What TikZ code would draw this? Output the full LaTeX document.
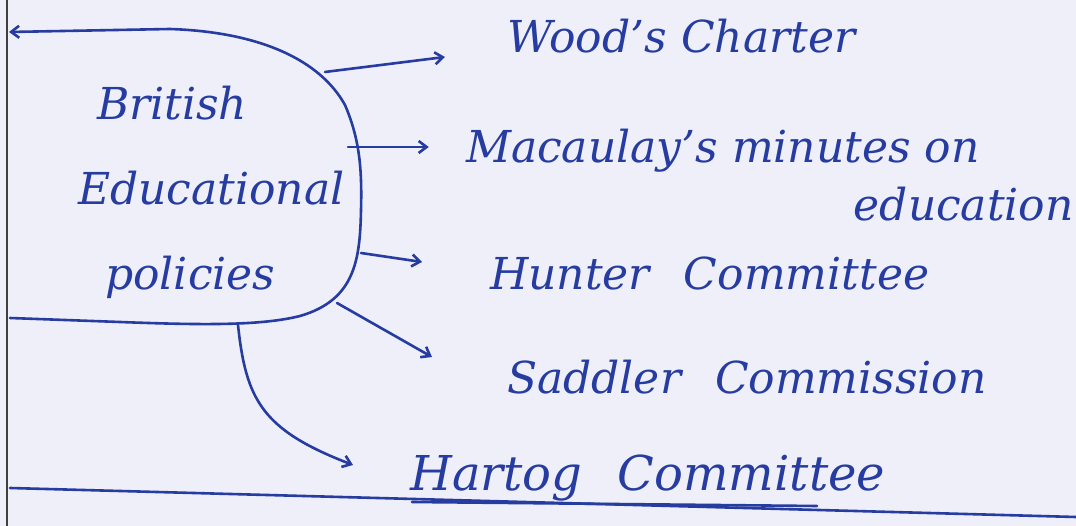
\documentclass[tikz,border=0pt]{standalone}
\usepackage{fontspec}
\setmainfont{DejaVu Serif}
\usetikzlibrary{arrows.meta}

\definecolor{ink}{RGB}{38,60,160}
\definecolor{paper}{RGB}{238,239,248}

\begin{document}
\begin{tikzpicture}[
    x=1pt, y=-1pt,
    pen/.style={ink, line width=2.6pt, line cap=round, line join=round},
    arr/.style={pen, -{Straight Barb[length=8pt,width=12pt]}},
    hand/.style={ink, font=\fontsize{44}{58}\selectfont\itshape, inner sep=0pt, anchor=base west},
]

% Page and margins
\useasboundingbox (0,0) rectangle (1076,526);
\fill[paper] (0,0) rectangle (1076,526);
\draw[line width=2pt, black!75] (7,0) -- (7,526);

% Central topic
\node[ink, align=left, inner sep=0pt, anchor=base west,
      font=\fontsize{44}{85}\selectfont\itshape] (pol) at (78,290)
    {\hspace*{19pt}British\\Educational\\\hspace*{27pt}policies};
\draw[pen, {Straight Barb[length=8pt,width=12pt]}-]
    (9,32) -- (170,29)
    .. controls (260,32) and (320,60) .. (345,105)
    .. controls (360,140) and (362,170) .. (361,210)
    .. controls (360,260) and (355,300) .. (300,316)
    .. controls (260,326) and (200,325) .. (120,322)
    -- (10,318);

% Points where arrows leave the outline
\coordinate (b1) at (325,72);
\coordinate (b2) at (348,147);
\coordinate (b3) at (361,253);
\coordinate (b4) at (337,303);
\coordinate (b5) at (238,325);

% Branches
\node[hand] (wood) at (507,53) {Wood's Charter};
\node[hand, align=right, anchor=east] (mac) at (1074,175)
    {Macaulay's minutes on\hspace*{94pt}\\education};
\node[hand] (hunter) at (490,290) {Hunter\hspace{20pt} Committee};
\node[hand] (saddler) at (507,393) {Saddler\hspace{20pt} Commission};
\node[hand, font=\fontsize{48}{58}\selectfont\itshape] (hartog) at (410,490)
    {Hartog\hspace{20pt} Committee};

\draw[arr] (b1) -- ([xshift=-62pt,yshift=-4pt]wood.base west);
\draw[arr] (b2) -- ([xshift=-37pt]b2 -| mac.west);
\draw[arr] (b3) -- ([xshift=-68pt,yshift=28pt]hunter.base west);
\draw[arr] (b4) -- ([xshift=-75pt,yshift=36pt]saddler.base west);
\draw[arr] (b5) .. controls (246,400) and (262,430) .. ([xshift=-57pt,yshift=25pt]hartog.base west);

% Ruled line at the bottom
\draw[pen] (10,488) -- (1076,517);
\draw[pen] (412,502) -- (817,506);

\end{tikzpicture}
\end{document}
